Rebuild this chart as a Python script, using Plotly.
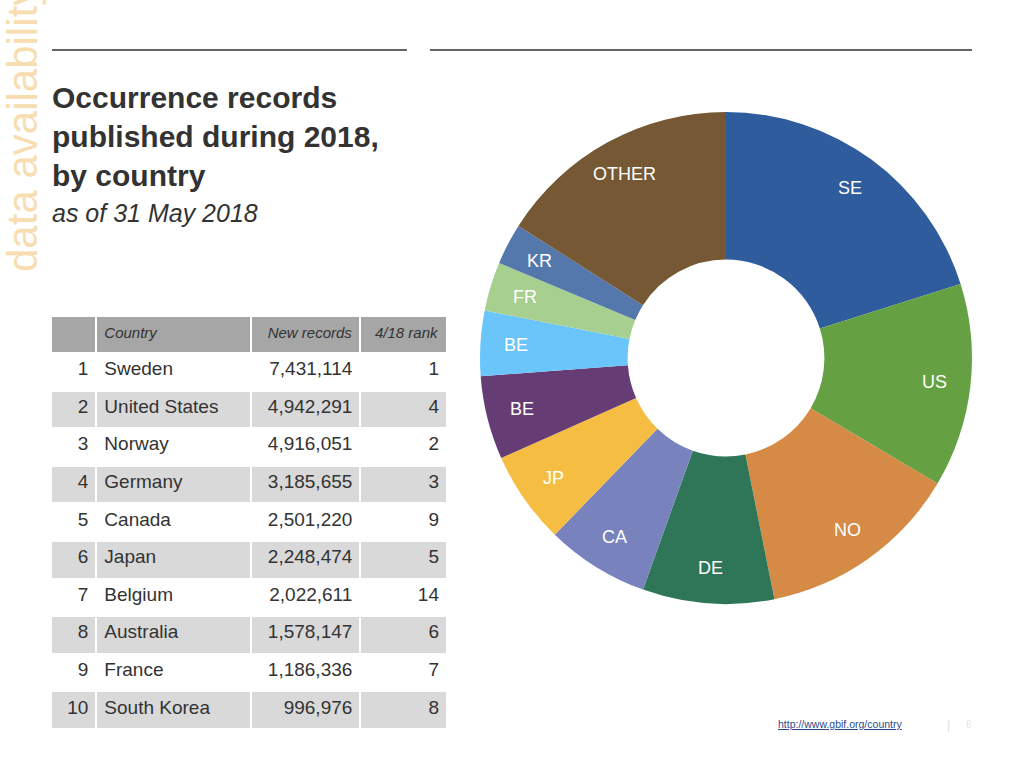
import math
import plotly.graph_objects as go

# ---------------- data ----------------
ranks = [1, 2, 3, 4, 5, 6, 7, 8, 9, 10]
countries = ["Sweden", "United States", "Norway", "Germany", "Canada",
             "Japan", "Belgium", "Australia", "France", "South Korea"]
new_records = [7431114, 4942291, 4916051, 3185655, 2501220,
               2248474, 2022611, 1578147, 1186336, 996976]
prev_rank = [1, 4, 2, 3, 9, 5, 14, 6, 7, 8]

slice_names = countries + ["Other"]
slice_codes = ["SE", "US", "NO", "DE", "CA", "JP", "BE", "BE", "FR", "KR", "OTHER"]
other_records = 5900000  # estimated from the chart
slice_values = new_records + [other_records]
slice_colors = ["#2E5C9C", "#65A042", "#D58A45", "#2F7658", "#7883BE", "#F5BE43",
                "#663C74", "#6AC6FA", "#A7CF90", "#5578AC", "#775834"]

header_labels = ["", "Country", "New records", "4/18 rank"]

FONT = "Liberation Sans, Arial, Helvetica, sans-serif"
W, H = 1024, 768


def px(x):
    return x / W


def py(y):
    return 1 - y / H


fig = go.Figure()

# donut geometry (pixels)
CX, CY, R = 726, 358, 246
LABEL_R = 0.855 * R

fig.add_trace(go.Pie(
    labels=slice_names, values=slice_values,
    textinfo="none", sort=False, direction="clockwise", rotation=0, hole=0.40,
    marker=dict(colors=slice_colors, line=dict(width=0)),
    domain=dict(x=[px(CX - R), px(CX + R)], y=[py(CY + R), py(CY - R)]),
    showlegend=False, hoverinfo="label+value+percent",
))

# table
row_fill = ["white" if i % 2 == 0 else "#D9D9D9" for i in range(len(ranks))]
fig.add_trace(go.Table(
    domain=dict(x=[px(51), px(447)], y=[py(732), py(316)]),
    columnwidth=[45, 153, 109, 86],
    header=dict(
        values=["<i>%s</i>" % h if h else "" for h in header_labels],
        fill_color="#A6A6A6", line=dict(color="white", width=2),
        align=["right", "left", "right", "right"],
        font=dict(family=FONT, size=15, color="#333333"), height=37,
    ),
    cells=dict(
        values=[ranks, countries, [f"{v:,}" for v in new_records], prev_rank],
        fill_color=[row_fill] * 4, line=dict(color="white", width=2),
        align=["right", "left", "right", "right"],
        font=dict(family=FONT, size=19, color="#333333"), height=37.6,
    ),
))

annotations = [
    dict(text="data availability", x=px(22), y=py(129), textangle=-90,
         font=dict(family=FONT, size=42, color="#F7DDB0"),
         xanchor="center", yanchor="middle", showarrow=False),
    dict(text="<b>Occurrence records</b>", x=px(50), y=py(98),
         font=dict(family=FONT, size=30, color="#333333"),
         xanchor="left", yanchor="middle", showarrow=False),
    dict(text="<b>published during 2018,</b>", x=px(50), y=py(136),
         font=dict(family=FONT, size=30, color="#333333"),
         xanchor="left", yanchor="middle", showarrow=False),
    dict(text="<b>by country</b>", x=px(50), y=py(175),
         font=dict(family=FONT, size=30, color="#333333"),
         xanchor="left", yanchor="middle", showarrow=False),
    dict(text="<i>as of 31 May 2018</i>", x=px(50), y=py(213),
         font=dict(family=FONT, size=25, color="#333333"),
         xanchor="left", yanchor="middle", showarrow=False),
    dict(text="<u>http://www.gbif.org/country</u>", x=px(776), y=py(724),
         font=dict(family=FONT, size=10.5, color="#2B4C8C"),
         xanchor="left", yanchor="middle", showarrow=False),
    dict(text="|", x=px(948), y=py(725),
         font=dict(family=FONT, size=12, color="#DDDDDD"),
         xanchor="center", yanchor="middle", showarrow=False),
    dict(text="6", x=px(969), y=py(724),
         font=dict(family=FONT, size=10, color="#E6E6E6"),
         xanchor="center", yanchor="middle", showarrow=False),
]

# slice codes placed at the mid-angle of each slice, near the outer edge
total = sum(slice_values)
cum = 0.0
for code, v in zip(slice_codes, slice_values):
    ang = 2 * math.pi * (cum + v / 2) / total
    cum += v
    annotations.append(dict(
        text=code, x=px(CX + LABEL_R * math.sin(ang)), y=py(CY - LABEL_R * math.cos(ang)),
        font=dict(family=FONT, size=18, color="white"),
        xanchor="center", yanchor="middle", showarrow=False,
    ))

for a in annotations:
    a["xref"] = "paper"
    a["yref"] = "paper"

shapes = [
    dict(type="line", xref="paper", yref="paper", x0=px(52), x1=px(407), y0=py(50), y1=py(50),
         line=dict(color="#333333", width=1.5)),
    dict(type="line", xref="paper", yref="paper", x0=px(430), x1=px(972), y0=py(50), y1=py(50),
         line=dict(color="#333333", width=1.5)),
]

fig.update_layout(
    width=W, height=H, margin=dict(l=0, r=0, t=0, b=0),
    paper_bgcolor="white", plot_bgcolor="white",
    annotations=annotations, shapes=shapes,
)

fig.write_html("out.html", config={"displayModeBar": False},
               post_script="document.body.style.margin='0';")
